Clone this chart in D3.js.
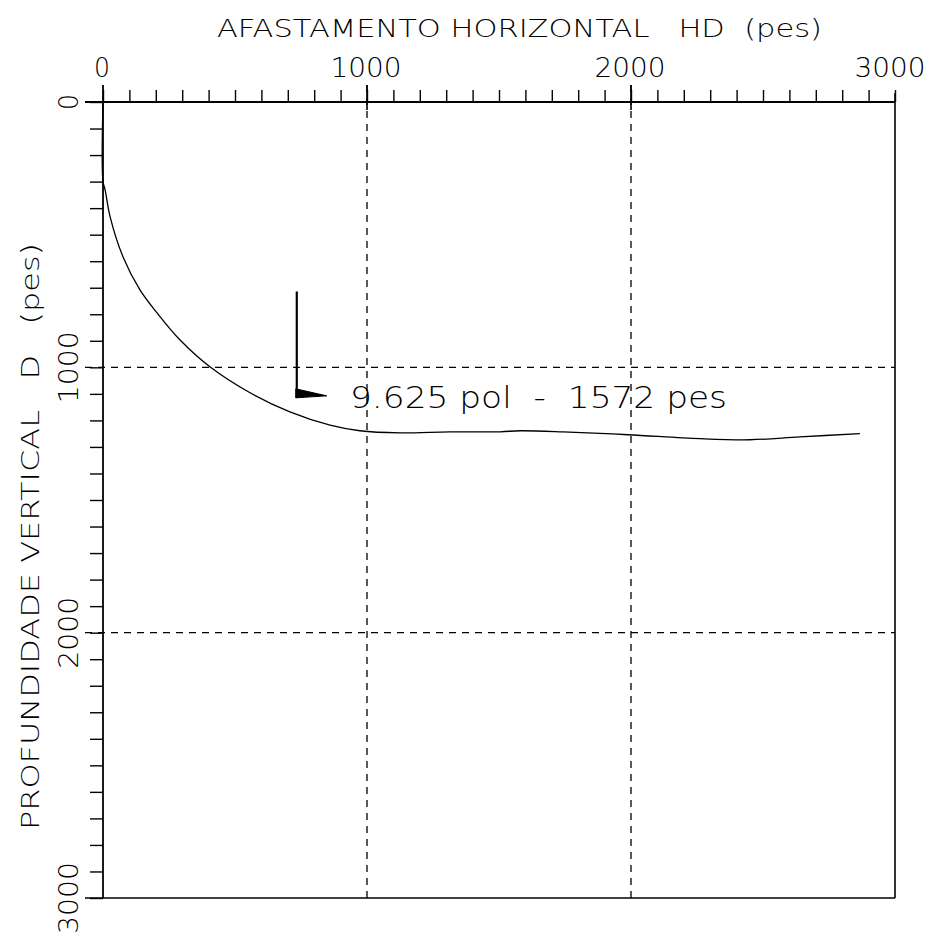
<!DOCTYPE html>
<html>
<head>
<meta charset="utf-8">
<script src="https://cdn.jsdelivr.net/npm/d3@7/dist/d3.min.js"></script>
<style>
  html, body { margin: 0; padding: 0; background: #fff; }
  svg { display: block; }
  text { font-family: "DejaVu Sans", "Liberation Sans", sans-serif; font-weight: 200; fill: #000; }
</style>
</head>
<body>
<svg id="chart" width="936" height="937"></svg>
<script>
// Axis titles and tick labels
const xTitle = "AFASTAMENTO HORIZONTAL   HD  (pes)";
const yTitle = "PROFUNDIDADE VERTICAL   D   (pes)";
const hdTicks = [0, 1000, 2000, 3000];
const tvdTicks = [0, 1000, 2000, 3000];
const minorStep = 100;

// Well trajectory: horizontal displacement (ft) and true vertical depth (ft)
const wellHD  = [0, 0, 8, 27, 76, 140, 205, 292, 405, 557, 708, 860, 973, 1125, 1314, 1504, 1580, 1742, 1989, 2261, 2451, 2640, 2867];
const wellTVD = [0, 300, 331, 433, 584, 708, 795, 897, 998, 1096, 1168, 1218, 1239, 1247, 1243, 1243, 1239, 1243, 1254, 1269, 1273, 1262, 1250];

// Casing shoe marker
const casingHD = 734;
const casingShoeTVD = 1115;
const casingTopTVD = 714;
const casingLabel = "9.625 pol  -  1572 pes";

const svg = d3.select("#chart");
const x = d3.scaleLinear().domain([0, 3000]).range([103, 895]);
const y = d3.scaleLinear().domain([0, 3000]).range([102, 898]);
const ink = "#000";

// Minor ticks, top axis (pointing up)
const minor = d3.range(0, 3001, minorStep);
svg.append("g")
  .attr("transform", `translate(0,${y(0)})`)
  .call(d3.axisTop(x).tickValues(minor).tickSize(12).tickSizeOuter(0).tickFormat(""))
  .call(g => g.select(".domain").remove())
  .call(g => g.selectAll("line").attr("stroke", ink).attr("stroke-width", 1.4));

// Minor ticks, left axis (pointing left)
svg.append("g")
  .attr("transform", `translate(${x(0)},0)`)
  .call(d3.axisLeft(y).tickValues(minor).tickSize(13).tickSizeOuter(0).tickFormat(""))
  .call(g => g.select(".domain").remove())
  .call(g => g.selectAll("line").attr("stroke", ink).attr("stroke-width", 1.4));

// Dashed grid at the thousands
const grid = svg.append("g").attr("stroke", ink).attr("stroke-width", 1.3).attr("stroke-dasharray", "7,6");
grid.selectAll("line.v").data(hdTicks.filter(d => d > 0 && d < 3000)).join("line")
  .attr("class", "v")
  .attr("x1", d => x(d)).attr("x2", d => x(d))
  .attr("y1", y(0) - 17).attr("y2", y(3000));
grid.selectAll("line.h").data(tvdTicks.filter(d => d > 0 && d < 3000)).join("line")
  .attr("class", "h")
  .attr("y1", d => y(d)).attr("y2", d => y(d))
  .attr("x1", x(0) - 18).attr("x2", x(3000));

// Frame
const frame = svg.append("g").attr("stroke", ink).attr("fill", "none");
frame.append("line").attr("x1", x(0) - 18).attr("x2", x(3000)).attr("y1", y(0)).attr("y2", y(0)).attr("stroke-width", 1.8);
frame.append("line").attr("x1", x(0)).attr("x2", x(0)).attr("y1", y(0) - 17).attr("y2", y(3000)).attr("stroke-width", 1.8);
frame.append("line").attr("x1", x(3000)).attr("x2", x(3000)).attr("y1", y(0) - 9).attr("y2", y(3000)).attr("stroke-width", 1.6);
frame.append("line").attr("x1", x(0) - 18).attr("x2", x(3000)).attr("y1", y(3000)).attr("y2", y(3000)).attr("stroke-width", 1.6);
// Major ticks at 1000 / 2000 on the top axis
frame.selectAll("line.maj").data(hdTicks.filter(d => d > 0 && d < 3000)).join("line")
  .attr("class", "maj")
  .attr("x1", d => x(d)).attr("x2", d => x(d))
  .attr("y1", y(0) - 17).attr("y2", y(0) + 8).attr("stroke-width", 1.6);

// Tick labels
svg.selectAll("text.xl").data(hdTicks).join("text")
  .attr("class", "xl")
  .attr("x", d => x(d) - (d === 3000 ? 5 : 1))
  .attr("y", 77)
  .attr("text-anchor", "middle")
  .attr("font-size", 27)
  .attr("textLength", d => d === 0 ? 16 : 71)
  .attr("lengthAdjust", "spacingAndGlyphs")
  .text(d => d);

svg.selectAll("text.yl").data(tvdTicks).join("text")
  .attr("class", "yl")
  .attr("transform", d => `translate(78,${y(d)}) rotate(-90)`)
  .attr("text-anchor", "middle")
  .attr("font-size", 27)
  .attr("textLength", d => d === 0 ? 16 : 72)
  .attr("lengthAdjust", "spacingAndGlyphs")
  .text(d => d);

// Axis titles
svg.append("text")
  .attr("x", 217).attr("y", 37)
  .attr("font-size", 25)
  .attr("textLength", 605)
  .attr("lengthAdjust", "spacingAndGlyphs")
  .style("white-space", "pre")
  .text(xTitle);

svg.append("text")
  .attr("transform", "translate(39,830) rotate(-90)")
  .attr("font-size", 25)
  .attr("textLength", 587)
  .attr("lengthAdjust", "spacingAndGlyphs")
  .style("white-space", "pre")
  .text(yTitle);

// Well path
const pts = d3.zip(wellHD, wellTVD);
svg.append("path")
  .attr("d", d3.line().x(d => x(d[0])).y(d => y(d[1])).curve(d3.curveCatmullRom.alpha(0.5))(pts))
  .attr("fill", "none")
  .attr("stroke", ink)
  .attr("stroke-width", 1.3);

// Casing shoe: vertical string plus filled shoe triangle
const cx = x(casingHD), cy = y(casingShoeTVD);
svg.append("line")
  .attr("x1", cx).attr("x2", cx)
  .attr("y1", y(casingTopTVD)).attr("y2", cy)
  .attr("stroke", ink).attr("stroke-width", 2.2);
svg.append("path")
  .attr("d", `M${cx - 1},${cy - 9} L${cx + 30},${cy - 2} L${cx - 1},${cy} Z`)
  .attr("fill", ink).attr("stroke", ink).attr("stroke-width", 1);

svg.append("text")
  .attr("x", 350).attr("y", 408)
  .attr("font-size", 31)
  .attr("textLength", 377)
  .attr("lengthAdjust", "spacingAndGlyphs")
  .style("white-space", "pre")
  .text(casingLabel);
</script>
</body>
</html>
